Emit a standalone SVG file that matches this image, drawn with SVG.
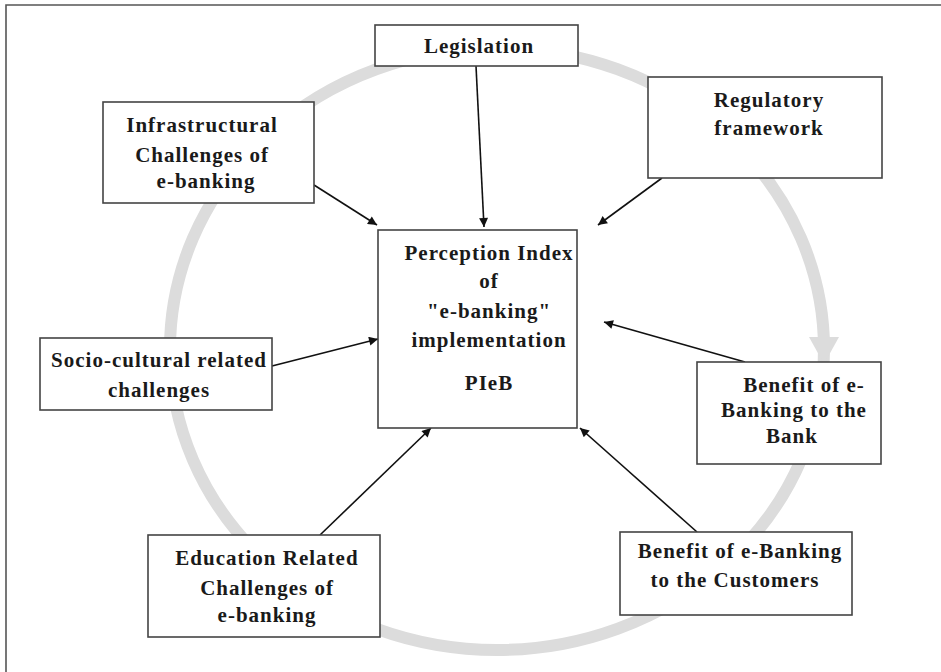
<svg xmlns="http://www.w3.org/2000/svg" width="941" height="672" viewBox="0 0 941 672">
<style>
.box{fill:#fff;stroke:#444;stroke-width:1.6}
.t{font-family:"Liberation Serif","Times New Roman",serif;font-size:21px;font-weight:bold;fill:#1a1a1a;text-anchor:middle;letter-spacing:1px}
.c{stroke:#111;stroke-width:1.6;fill:none;marker-end:url(#ah)}
</style>
<defs>
<marker id="ah" viewBox="0 0 10 10" refX="10" refY="5" markerWidth="12" markerHeight="9" markerUnits="userSpaceOnUse" orient="auto">
<path d="M0,0 L10,5 L0,10 z" fill="#111"/>
</marker>
</defs>
<rect width="941" height="672" fill="#fff"/>
<path d="M6,672 V5 H941" fill="none" stroke="#555" stroke-width="1.6"/>
<g id="cycle">
<ellipse cx="497" cy="349" rx="327" ry="301" fill="none" stroke="#dcdcdc" stroke-width="12"/>
<polygon points="809,337 839,337 824,364" fill="#dcdcdc"/>
</g>
<g id="connectors">
<line class="c" x1="476" y1="66" x2="484" y2="227"/>
<line class="c" x1="662" y1="178" x2="598" y2="225"/>
<line class="c" x1="314" y1="185" x2="377" y2="225"/>
<line class="c" x1="272" y1="366" x2="378" y2="339"/>
<line class="c" x1="320" y1="535" x2="431" y2="428"/>
<line class="c" x1="745" y1="362" x2="604" y2="322"/>
<line class="c" x1="697" y1="532" x2="580" y2="428"/>
</g>
<g id="legislation">
<rect class="box" x="375" y="25" width="203" height="41"/>
<text class="t" x="479" y="53">Legislation</text>
</g>
<g id="regulatory">
<rect class="box" x="648" y="77" width="234" height="101"/>
<text class="t" x="769" y="107">Regulatory</text>
<text class="t" x="769" y="135">framework</text>
</g>
<g id="infrastructural">
<rect class="box" x="103" y="102" width="211" height="101"/>
<text class="t" x="202" y="132">Infrastructural</text>
<text class="t" x="202" y="162">Challenges of</text>
<text class="t" x="206" y="188">e-banking</text>
</g>
<g id="pieb">
<rect class="box" x="378" y="230" width="199" height="198"/>
<text class="t" x="489" y="260">Perception Index</text>
<text class="t" x="489" y="288">of</text>
<text class="t" x="489" y="318">"e-banking"</text>
<text class="t" x="489" y="347">implementation</text>
<text class="t" x="489" y="390">PIeB</text>
</g>
<g id="socio">
<rect class="box" x="40" y="338" width="232" height="72"/>
<text class="t" x="159" y="367">Socio-cultural related</text>
<text class="t" x="159" y="397">challenges</text>
</g>
<g id="bank">
<rect class="box" x="697" y="362" width="184" height="102"/>
<text class="t" x="804" y="392">Benefit of e-</text>
<text class="t" x="794" y="417">Banking to the</text>
<text class="t" x="792" y="443">Bank</text>
</g>
<g id="education">
<rect class="box" x="148" y="535" width="232" height="102"/>
<text class="t" x="267" y="565">Education Related</text>
<text class="t" x="267" y="595">Challenges of</text>
<text class="t" x="267" y="622">e-banking</text>
</g>
<g id="customers">
<rect class="box" x="620" y="532" width="232" height="83"/>
<text class="t" x="740" y="558">Benefit of e-Banking</text>
<text class="t" x="735" y="587">to the Customers</text>
</g>
</svg>
